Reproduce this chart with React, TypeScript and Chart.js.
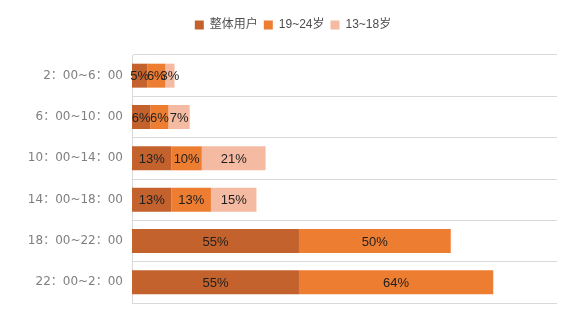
import React, { useEffect, useRef } from "react";
import { Chart, registerables } from "chart.js";

Chart.register(...registerables);

const categories = ["2：00~6：00", "6：00~10：00", "10：00~14：00", "14：00~18：00", "18：00~22：00", "22：00~2：00"];
const seriesNames = ["整体用户", "19~24岁", "13~18岁"];
const overall = [5, 6, 13, 13, 55, 55];
const age19to24 = [6, 6, 10, 13, 50, 64];
const age13to18 = [3, 7, 21, 15, null, null];
const colors = ["#C4622D", "#ED7D31", "#F5BAA2"];

const labelPlugin = {
  id: "segLabels",
  afterDatasetsDraw(chart: any) {
    const ctx = chart.ctx;
    ctx.save();
    ctx.font = "13px 'Liberation Sans', Arial, sans-serif";
    ctx.fillStyle = "#1F1F1F";
    ctx.textAlign = "center";
    ctx.textBaseline = "middle";
    chart.data.datasets.forEach((ds: any, i: number) => {
      const meta = chart.getDatasetMeta(i);
      meta.data.forEach((el: any, j: number) => {
        const v = ds.data[j];
        if (v === null || v === undefined || v === 0) return;
        const p = el.getProps(["x", "y", "base"], true);
        ctx.fillText(v + "%", (p.x + p.base) / 2, p.y + 1);
      });
    });
    ctx.restore();
  },
};

export default function App() {
  const ref = useRef<HTMLCanvasElement>(null);
  useEffect(() => {
    document.body.style.margin = "0";
    const chart = new Chart(ref.current as HTMLCanvasElement, {
      type: "bar",
      data: {
        labels: categories,
        datasets: [
          { label: seriesNames[0], data: overall, backgroundColor: colors[0] },
          { label: seriesNames[1], data: age19to24, backgroundColor: colors[1] },
          { label: seriesNames[2], data: age13to18, backgroundColor: colors[2] },
        ],
      },
      options: {
        indexAxis: "y",
        responsive: false,
        animation: false,
        categoryPercentage: 1,
        barPercentage: 0.58,
        layout: { padding: { left: 29, right: 21, top: 13, bottom: 20 } },
        plugins: {
          legend: {
            position: "top",
            labels: {
              boxWidth: 9,
              boxHeight: 9,
              padding: 6,
              color: "#4D4D4D",
              font: { size: 12, family: "'Liberation Sans', 'Noto Sans CJK SC', sans-serif" },
            },
          },
          tooltip: { enabled: false },
        },
        scales: {
          x: {
            stacked: true,
            position: "top",
            min: 0,
            max: 140,
            grid: { display: false },
            border: { display: false },
            ticks: { display: false },
            afterFit: (s: any) => {
              s.height = 14;
            },
          },
          y: {
            stacked: true,
            grid: { color: "#D9D9D9", drawTicks: false, lineWidth: 1 },
            border: { color: "#D9D9D9" },
            ticks: {
              padding: 9,
              color: "#7F7F7F",
              font: { size: 12, family: "'DejaVu Sans', 'Noto Sans CJK SC', sans-serif" },
            },
            afterFit: (s: any) => {
              s.width = 103;
            },
          },
        },
      },
      plugins: [labelPlugin],
    } as any);
    return () => chart.destroy();
  }, []);
  return (
    <div style={{ width: 578, height: 323 }}>
      <canvas ref={ref} width={578} height={323} style={{ display: "block" }} />
    </div>
  );
}
